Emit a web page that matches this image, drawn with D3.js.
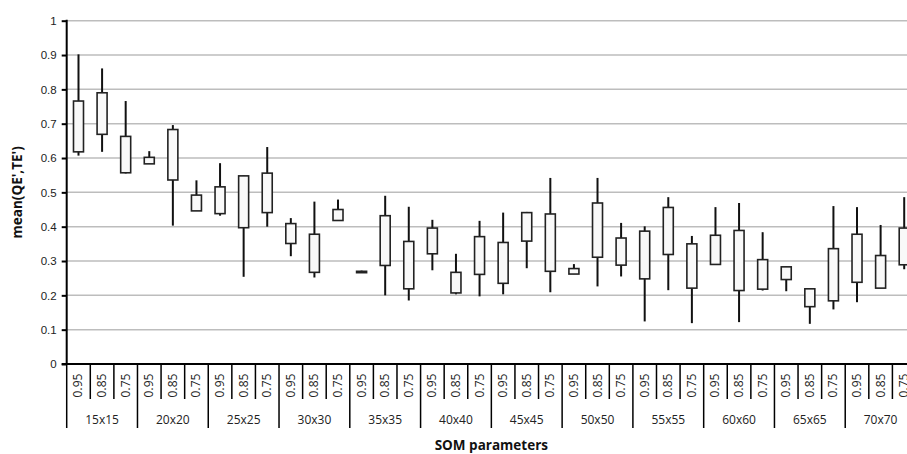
<!DOCTYPE html>
<html>
<head>
<meta charset="utf-8">
<script src="https://cdn.jsdelivr.net/npm/d3@7"></script>
<style>
  body { margin: 0; background: #fff; }
  svg { display: block; font-family: "Open Sans", sans-serif; }
</style>
</head>
<body>
<script>
// SOM sizes and thresholds
var groups = ["15x15", "20x20", "25x25", "30x30", "35x35", "40x40",
              "45x45", "50x50", "55x55", "60x60", "65x65", "70x70"];
var thresholds = ["0.95", "0.85", "0.75"];

// values per category (group x threshold)
var highs = [0.902, 0.861, 0.766, 0.620, 0.696, 0.535, 0.585, 0.549, 0.632,
             0.425, 0.473, 0.479, 0.272, 0.490, 0.458, 0.420, 0.321, 0.417,
             0.441, 0.443, 0.542, 0.291, 0.542, 0.411, 0.401, 0.486, 0.373,
             0.457, 0.469, 0.384, 0.284, 0.219, 0.460, 0.457, 0.405, 0.486];
var boxTops = [0.766, 0.790, 0.663, 0.602, 0.683, 0.492, 0.516, 0.548, 0.556,
               0.409, 0.378, 0.450, 0.270, 0.432, 0.357, 0.396, 0.267, 0.371,
               0.354, 0.441, 0.437, 0.278, 0.469, 0.367, 0.387, 0.456, 0.350,
               0.375, 0.389, 0.304, 0.283, 0.219, 0.336, 0.378, 0.316, 0.396];
var boxBottoms = [0.618, 0.669, 0.557, 0.583, 0.536, 0.446, 0.438, 0.397, 0.441,
                  0.351, 0.267, 0.418, 0.266, 0.287, 0.219, 0.321, 0.207, 0.261,
                  0.235, 0.358, 0.270, 0.262, 0.311, 0.288, 0.248, 0.319, 0.221,
                  0.290, 0.214, 0.218, 0.246, 0.167, 0.184, 0.238, 0.221, 0.289];
var lows = [0.607, 0.618, 0.555, 0.583, 0.403, 0.446, 0.432, 0.254, 0.400,
            0.314, 0.252, 0.418, 0.265, 0.200, 0.185, 0.273, 0.203, 0.197,
            0.203, 0.279, 0.209, 0.262, 0.226, 0.255, 0.124, 0.215, 0.119,
            0.290, 0.122, 0.214, 0.212, 0.117, 0.159, 0.180, 0.221, 0.276];
var yTicks = [0, 0.1, 0.2, 0.3, 0.4, 0.5, 0.6, 0.7, 0.8, 0.9, 1];

var width = 907,
    height = 454,
    plotLeft = 66.7,
    plotRight = 916,   // plot runs past the window edge, like the original
    plotTop = 20.7,
    plotBottom = 364;

var cats = [];
groups.forEach(function(g) {
  thresholds.forEach(function(t) { cats.push(g + "|" + t); });
});

var data = cats.map(function(c, i) {
  return { key: c, group: c.split("|")[0], thr: c.split("|")[1],
           high: highs[i], low: lows[i], top: boxTops[i], bot: boxBottoms[i] };
});

var x = d3.scaleBand().domain(cats).range([plotLeft, plotRight]).padding(0);
var gx = d3.scaleBand().domain(groups).range([plotLeft, plotRight]).padding(0);
var y = d3.scaleLinear().domain([0, 1]).range([plotBottom, plotTop]);

var svg = d3.select("body").append("svg")
    .attr("width", width)
    .attr("height", height);

// gridlines
svg.append("g").selectAll("line")
    .data(yTicks.filter(function(d) { return d > 0; }))
  .enter().append("line")
    .attr("x1", plotLeft).attr("x2", width)
    .attr("y1", function(d) { return y(d); })
    .attr("y2", function(d) { return y(d); })
    .attr("stroke", "#bdbdbd")
    .attr("stroke-width", 1.5);

// y axis
var yAxis = d3.axisLeft(y).tickValues(yTicks).tickSize(5).tickPadding(5)
    .tickFormat(function(d) { return String(+d.toFixed(1)); });
var ya = svg.append("g")
    .attr("transform", "translate(" + plotLeft + ",0)")
    .call(yAxis);
ya.select(".domain").attr("stroke", "#000").attr("stroke-width", 2)
    .attr("d", "M0," + (plotTop - 1) + "V" + plotBottom);
ya.selectAll(".tick line").attr("stroke", "#000").attr("stroke-width", 2);
ya.selectAll(".tick text").attr("font-size", 11.5).attr("fill", "#222");

// whiskers and boxes
var candles = svg.append("g").selectAll("g")
    .data(data)
  .enter().append("g");

candles.append("line")
    .attr("x1", function(d) { return x(d.key) + x.bandwidth() / 2; })
    .attr("x2", function(d) { return x(d.key) + x.bandwidth() / 2; })
    .attr("y1", function(d) { return y(d.high); })
    .attr("y2", function(d) { return y(d.low); })
    .attr("stroke", "#111")
    .attr("stroke-width", 2);

var boxW = 10;
candles.append("rect")
    .attr("x", function(d) { return x(d.key) + x.bandwidth() / 2 - boxW / 2; })
    .attr("width", boxW)
    .attr("y", function(d) { return y(d.top); })
    .attr("height", function(d) { return Math.max(1, y(d.bot) - y(d.top)); })
    .attr("fill", "#f9f9f9")
    .attr("stroke", "#222")
    .attr("stroke-width", 1.6);

// category axis
svg.append("line")
    .attr("x1", plotLeft - 5).attr("x2", width)
    .attr("y1", plotBottom).attr("y2", plotBottom)
    .attr("stroke", "#000").attr("stroke-width", 2);

svg.append("g").selectAll("line")
    .data(cats)
  .enter().append("line")
    .attr("x1", function(d) { return x(d); })
    .attr("x2", function(d) { return x(d); })
    .attr("y1", plotBottom)
    .attr("y2", function(d, i) { return i % 3 === 0 ? 428 : 399; })
    .attr("stroke", "#000").attr("stroke-width", 1.5);

svg.append("g").selectAll("text")
    .data(data)
  .enter().append("text")
    .attr("transform", function(d) {
      return "translate(" + (x(d.key) + x.bandwidth() / 2 + 4) + ",385.5) rotate(-90)";
    })
    .attr("text-anchor", "middle")
    .attr("font-size", 12)
    .attr("fill", "#222")
    .text(function(d) { return d.thr; });

svg.append("g").selectAll("text")
    .data(groups)
  .enter().append("text")
    .attr("x", function(d) { return gx(d) + gx.bandwidth() / 2; })
    .attr("y", 423.5)
    .attr("text-anchor", "middle")
    .attr("font-size", 12)
    .attr("fill", "#222")
    .text(function(d) { return d; });

// axis titles
svg.append("text")
    .attr("x", (plotLeft + plotRight) / 2)
    .attr("y", 450)
    .attr("text-anchor", "middle")
    .attr("font-size", 13.5)
    .attr("font-weight", "bold")
    .attr("fill", "#111")
    .text("SOM parameters");

svg.append("text")
    .attr("transform", "translate(22," + (plotTop + plotBottom) / 2 + ") rotate(-90)")
    .attr("text-anchor", "middle")
    .attr("font-size", 13.5)
    .attr("font-weight", "bold")
    .attr("fill", "#111")
    .text("mean(QE',TE')");
</script>
</body>
</html>
